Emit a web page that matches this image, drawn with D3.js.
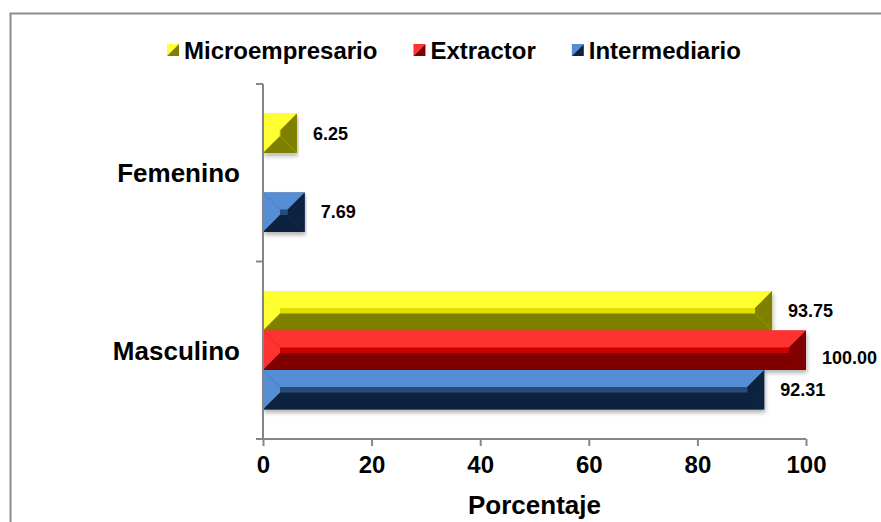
<!DOCTYPE html>
<html>
<head>
<meta charset="utf-8">
<script src="https://cdn.jsdelivr.net/npm/d3@7"></script>
<style>
  html, body { margin: 0; padding: 0; background: #fff; }
  svg { display: block; font-family: "Liberation Sans", Arial, sans-serif; }
</style>
</head>
<body>
<svg id="chart" width="881" height="522"></svg>
<script>
// Categories (top to bottom) and series
const categories = ["Femenino", "Masculino"];
const seriesNames = ["Microempresario", "Extractor", "Intermediario"];
// Percent values per series, in category order
const microempresario = [6.25, 93.75];
const extractor = [0, 100.00];
const intermediario = [7.69, 92.31];
const xTicks = [0, 20, 40, 60, 80, 100];

const seriesValues = [microempresario, extractor, intermediario];

// Bevel shading: light edge, face, dark edge
const palette = {
  Microempresario: { light: "#FFFF33", face: "#DEDE00", dark: "#808000" },
  Extractor:       { light: "#FF3333", face: "#CC0000", dark: "#7F0000" },
  Intermediario:   { light: "#558ED5", face: "#264B7D", dark: "#10243F" }
};

const svg = d3.select("#chart");

// Outer chart frame
svg.append("rect")
  .attr("x", 10.5).attr("y", 13.5)
  .attr("width", 900).attr("height", 600)
  .attr("fill", "none").attr("stroke", "#8c8c8c").attr("stroke-width", 2);

// Soft drop shadow for the bars
const defs = svg.append("defs");
const f = defs.append("filter").attr("id", "shadow")
  .attr("x", "-5%").attr("y", "-20%").attr("width", "110%").attr("height", "150%");
f.append("feDropShadow").attr("dx", 1).attr("dy", 3).attr("stdDeviation", 2)
  .attr("flood-color", "#000").attr("flood-opacity", 0.3);

const plot = { left: 263, right: 806, top: 84, bottom: 439 };

const x = d3.scaleLinear().domain([0, 100]).range([plot.left, plot.right]);
const y = d3.scaleBand().domain(categories).range([plot.top, plot.bottom]);
const ySeries = d3.scaleBand().domain(seriesNames)
  .range([0, y.bandwidth()]).paddingInner(0).paddingOuter(0.75);

// Bevelled bar built from four edge trapezoids and a face
function bevelBar(g, x0, x1, y0, y1, c) {
  const w = x1 - x0, h = y1 - y0;
  if (w <= 0) return;
  const b = Math.min(17, w / 2 - 0.5, h / 2 - 2);
  const pts = a => a.map(p => p.join(",")).join(" ");
  const bar = g.append("g").attr("filter", "url(#shadow)");
  bar.append("rect").attr("x", x0).attr("y", y0).attr("width", w).attr("height", h).attr("fill", c.face);
  bar.append("polygon").attr("fill", c.light)
    .attr("points", pts([[x0, y0], [x1, y0], [x1 - b, y0 + b], [x0 + b, y0 + b]]));
  bar.append("polygon").attr("fill", c.light)
    .attr("points", pts([[x0, y0], [x0 + b, y0 + b], [x0 + b, y1 - b], [x0, y1]]));
  bar.append("polygon").attr("fill", c.dark)
    .attr("points", pts([[x0, y1], [x0 + b, y1 - b], [x1 - b, y1 - b], [x1, y1]]));
  bar.append("polygon").attr("fill", c.dark)
    .attr("points", pts([[x1, y0], [x1, y1], [x1 - b, y1 - b], [x1 - b, y0 + b]]));
}

const barsG = svg.append("g");
const labelsG = svg.append("g");

categories.forEach((cat, ci) => {
  seriesNames.forEach((s, si) => {
    const v = seriesValues[si][ci];
    const y0 = y(cat) + ySeries(s);
    const y1 = y0 + ySeries.bandwidth();
    bevelBar(barsG, x(0), x(v), y0, y1, palette[s]);
    if (v > 0) {
      // the longest bar's label sits a little lower to clear its neighbours
      const isMax = v === d3.max(seriesValues, a => a[ci]);
      const dy = (isMax && ci === 1) ? 7 : 0;
      labelsG.append("text")
        .attr("x", x(v) + 16)
        .attr("y", (y0 + y1) / 2 + dy)
        .attr("dy", "0.35em")
        .attr("font-size", 18).attr("font-weight", "bold").attr("fill", "#000")
        .text(v.toFixed(2));
    }
  });
});

// Vertical category axis
const axisColor = "#868686";
svg.append("line")
  .attr("x1", plot.left).attr("x2", plot.left)
  .attr("y1", plot.top).attr("y2", plot.bottom)
  .attr("stroke", axisColor).attr("stroke-width", 2);
const boundaries = categories.map(c => y(c)).concat([plot.bottom]);
svg.selectAll(".ytick").data(boundaries).enter().append("line")
  .attr("x1", plot.left - 7).attr("x2", plot.left)
  .attr("y1", d => d).attr("y2", d => d)
  .attr("stroke", axisColor).attr("stroke-width", 2);
svg.selectAll(".ylab").data(categories).enter().append("text")
  .attr("x", 240)
  .attr("y", d => y(d) + y.bandwidth() / 2)
  .attr("dy", "0.36em")
  .attr("text-anchor", "end")
  .attr("font-size", 26).attr("font-weight", "bold").attr("fill", "#000")
  .text(d => d);

// Horizontal value axis
const xAxis = svg.append("g")
  .attr("transform", `translate(0,${plot.bottom})`)
  .call(d3.axisBottom(x).tickValues(xTicks).tickSize(7).tickPadding(10).tickSizeOuter(0));
xAxis.select(".domain").attr("stroke", axisColor).attr("stroke-width", 2)
  .attr("d", `M${plot.left - 7},0H${plot.right}`);
xAxis.selectAll(".tick line").attr("stroke", axisColor).attr("stroke-width", 2);
xAxis.selectAll(".tick text")
  .attr("font-size", 24).attr("font-weight", "bold").attr("fill", "#000")
  .attr("font-family", "'Liberation Sans', Arial, sans-serif");

svg.append("text")
  .attr("x", (plot.left + plot.right) / 2).attr("y", 514)
  .attr("text-anchor", "middle")
  .attr("font-size", 26).attr("font-weight", "bold").attr("fill", "#000")
  .text("Porcentaje");

// Legend
const legend = svg.append("g");
let lx = 167;
seriesNames.forEach(s => {
  const c = palette[s];
  const sx = lx, sy = 44, sz = 12;
  legend.append("polygon").attr("fill", c.light)
    .attr("points", `${sx},${sy} ${sx + sz},${sy} ${sx},${sy + sz}`);
  legend.append("polygon").attr("fill", c.dark)
    .attr("points", `${sx + sz},${sy} ${sx + sz},${sy + sz} ${sx},${sy + sz}`);
  const t = legend.append("text")
    .attr("x", sx + 17).attr("y", 58.5)
    .attr("font-size", 24).attr("font-weight", "bold").attr("fill", "#000")
    .text(s);
  lx = sx + 17 + t.node().getComputedTextLength() + 36;
});
</script>
</body>
</html>
